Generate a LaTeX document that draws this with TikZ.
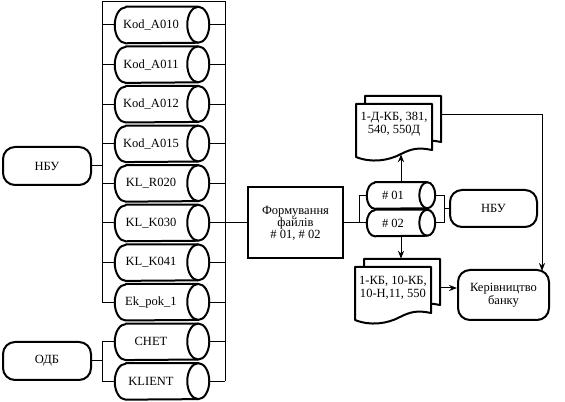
\documentclass[tikz,border=0pt]{standalone}
\usepackage{fontspec}
\setmainfont{Liberation Serif}
\usetikzlibrary{arrows.meta,calc}
\newcommand\dgfont{\rmfamily\fontsize{9.4}{9.6}\selectfont}
\tikzset{
  shapeline/.style={line width=1.5pt, line join=round},
  conn/.style={line width=0.75pt},
  arr/.style={conn, -{Stealth[length=6pt,width=4.6pt]}},
  txt/.style={font=\dgfont, inner sep=0pt, align=center},
  boxnode/.style={inner sep=0pt, draw=none},
  term/.style={draw, line width=1.5pt, rounded corners=9pt, inner sep=0pt, font=\dgfont, align=center},
}
% name, cx, cy, width, height, rx, text
\newcommand\drumshape[7]{%
  \node[boxnode, minimum width=#4*0.75pt, minimum height=#5*0.75pt] (#1) at (#2,#3) {};
  \draw[shapeline, fill=white] ($(#1.north west)+(#6,0)$) -- ($(#1.north east)+(-#6,0)$)
     arc[start angle=90, end angle=-90, x radius=#6*0.75pt, y radius=#5*0.375pt]
     -- ($(#1.south west)+(#6,0)$)
     arc[start angle=270, end angle=90, x radius=#6*0.75pt, y radius=#5*0.375pt] -- cycle;
  \draw[shapeline] ($(#1.north east)+(-#6,0)$)
     arc[start angle=90, end angle=270, x radius=#6*0.75pt, y radius=#5*0.375pt];
  \node[txt] (#1t) at ($(#1.center)+(-#6,0)$) {#7};
}
% one sheet of a document: left, top
\newcommand\sheetpath[2]{%
  \draw[shapeline, fill=white] (#1,#2) -- (#1+76,#2) -- (#1+76,#2+46)
    .. controls (#1+62,#2+43) and (#1+55,#2+45) .. (#1+45,#2+50)
    .. controls (#1+32,#2+57) and (#1+15,#2+59) .. (#1,#2+53) -- cycle;
}
% name, left, top, text
\newcommand\docshape[4]{%
  \sheetpath{#2+9}{#3-8}
  \sheetpath{#2}{#3}
  \node[boxnode, minimum width=85*0.75pt, minimum height=58*0.75pt] (#1) at (#2+42.5,#3+21) {};
  \node[txt] (#1t) at (#2+38,#3+20.5) {#4};
}
\begin{document}
\begin{tikzpicture}[x=0.75pt, y=-0.75pt]
\useasboundingbox (0,0) rectangle (565,402);

% left cylinders
\drumshape{k1}{162}{25}{94}{36}{11}{Kod\_A010}
\drumshape{k2}{162}{64.6}{94}{36}{11}{Kod\_A011}
\drumshape{k3}{162}{104.2}{94}{36}{11}{Kod\_A012}
\drumshape{k4}{162}{143.8}{94}{36}{11}{Kod\_A015}
\drumshape{k5}{162}{183.4}{94}{36}{11}{KL\_R020}
\drumshape{k6}{162}{223}{94}{36}{11}{KL\_K030}
\drumshape{k7}{162}{262.6}{94}{36}{11}{KL\_K041}
\drumshape{k8}{162}{302.2}{94}{36}{11}{Ek\_pok\_1}
\drumshape{chet}{162}{341.8}{94}{36}{11}{CHET}
\drumshape{klient}{162}{381.4}{94}{36}{11}{KLIENT}

% frame
\coordinate (fTL) at (102,2);
\coordinate (fTR) at (225,2);
\draw[conn] (k8.west -| fTL) -- (fTL) -- (fTR) -- (klient.east -| fTR);
\foreach \k in {k1,k2,k3,k4,k5,k6,k7,k8}{
  \draw[conn] (\k.west) -- (\k.west -| fTL);
  \draw[conn] (\k.east) -- (\k.east -| fTR);
}
\draw[conn] (chet.east) -- (chet.east -| fTR);
\draw[conn] (klient.east) -- (klient.east -| fTR);

% left terminals
\node[term, minimum width=88*0.75pt, minimum height=38*0.75pt] (nbu1) at (47,166) {НБУ};
\node[term, minimum width=88*0.75pt, minimum height=38*0.75pt] (odb) at (47,361) {ОДБ};
\draw[conn] (nbu1.east) -- (nbu1.east -| fTL);
\draw[conn] (chet.west) -- (chet.west -| fTL) -- (klient.west -| fTL) -- (klient.west);
\draw[conn] (odb.east) -- (odb.east -| fTL);

% forming box
\node[draw, line width=1.5pt, minimum width=95*0.75pt, minimum height=71*0.75pt,
      inner sep=0pt, font=\rmfamily\fontsize{9.4}{9}\selectfont, align=center] (fm) at (295.5,223)
      {Формування\\файлів\\\# 01, \# 02};
\draw[conn] (k6.east) -- (fm.west);

% small cylinders
\drumshape{s1}{401}{195.5}{68}{26}{8}{\# 01}
\drumshape{s2}{401}{223}{68}{26}{8}{\# 02}
\coordinate (brx) at (359,0);
\coordinate (bry) at (444,0);
\draw[conn] (fm.east) -- (fm.east -| brx);
\draw[conn] (s1.west) -- (s1.west -| brx) -- (s2.west -| brx) -- (s2.west);
\draw[conn] (s1.east) -- (s1.east -| bry) -- (s2.east -| bry) -- (s2.east);

% right terminals
\node[term, minimum width=87*0.75pt, minimum height=37*0.75pt] (nbu2) at (493.5,208.5) {НБУ};
\node[term, minimum width=91*0.75pt, minimum height=50*0.75pt] (kb) at (503.5,295) {Керівництво\\банку};
\draw[conn] (nbu2.west) -- (nbu2.west -| bry);

% documents
\docshape{d1}{356}{104}{1-Д-КБ, 381,\\540, 550Д}
\docshape{d2}{355}{267}{1-КБ, 10-КБ,\\10-Н,11, 550}

\draw[arr] (s1.north) -- (s1.north |- d1.south);
\draw[arr] (s2.south) -- (s2.south |- d2.north);
\coordinate (d1r) at ($(d1.north east)+(0,19)$);
\coordinate (kbin) at ($(kb.north east)+(-8,2)$);
\draw[arr] (d1r) -| (kbin);
\draw[arr] (d2.east) -- (d2.east -| kb.west);
\end{tikzpicture}
\end{document}
